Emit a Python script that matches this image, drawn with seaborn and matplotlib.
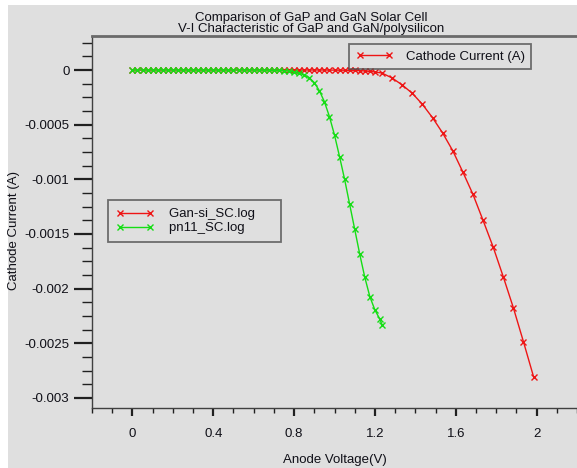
import matplotlib
matplotlib.use("Agg")
import matplotlib.pyplot as plt
import seaborn as sns
import pandas as pd
from matplotlib.patches import Rectangle
from matplotlib.ticker import MultipleLocator

# ---- data ----
gan_v = [0.0, 0.025, 0.05, 0.075, 0.1, 0.125, 0.15, 0.175, 0.2, 0.225, 0.25, 0.275,
         0.3, 0.325, 0.35, 0.375, 0.4, 0.425, 0.45, 0.475, 0.5, 0.525, 0.55, 0.575,
         0.6, 0.625, 0.65, 0.675, 0.7, 0.725, 0.75, 0.775, 0.8, 0.825, 0.85, 0.875,
         0.9, 0.925, 0.95, 0.975, 1.0, 1.025, 1.05, 1.075, 1.1, 1.125, 1.15, 1.175,
         1.2, 1.235, 1.285, 1.335, 1.385, 1.435, 1.485, 1.535, 1.585, 1.635, 1.685,
         1.735, 1.785, 1.835, 1.885, 1.935, 1.985]
gan_i = [0.0, 0.0, 0.0, 0.0, 0.0, 0.0, 0.0, 0.0, 0.0, 0.0, 0.0, 0.0,
         0.0, 0.0, 0.0, 0.0, 0.0, 0.0, 0.0, 0.0, 0.0, 0.0, 0.0, 0.0,
         0.0, 0.0, 0.0, 0.0, 0.0, 0.0, 0.0, 0.0, 0.0, 0.0, 0.0, 0.0,
         0.0, 0.0, 0.0, -0.000001, -0.000001, -0.000002, -0.000002, -0.000003,
         -0.000004, -0.000006, -0.000009, -0.000013, -0.000018, -0.000028,
         -0.000073, -0.000137, -0.000213, -0.000314, -0.000436, -0.000576,
         -0.000738, -0.000933, -0.001137, -0.001375, -0.001619, -0.001891,
         -0.002175, -0.002486, -0.002806]

pn_v = [0.0, 0.025, 0.05, 0.075, 0.1, 0.125, 0.15, 0.175, 0.2, 0.225, 0.25, 0.275,
        0.3, 0.325, 0.35, 0.375, 0.4, 0.425, 0.45, 0.475, 0.5, 0.525, 0.55, 0.575,
        0.6, 0.625, 0.65, 0.675, 0.7, 0.725, 0.75, 0.775, 0.8, 0.825, 0.85, 0.875,
        0.9, 0.925, 0.95, 0.975, 1.0, 1.025, 1.05, 1.075, 1.1, 1.125, 1.15, 1.175,
        1.2, 1.225, 1.235]
pn_i = [0.0, 0.0, 0.0, 0.0, 0.0, 0.0, 0.0, 0.0, 0.0, 0.0, 0.0, 0.0,
        0.0, 0.0, 0.0, 0.0, 0.0, 0.0, 0.0, 0.0, 0.0, 0.0, 0.0, 0.0,
        -0.000001, -0.000001, -0.000002, -0.000002, -0.000003, -0.000004,
        -0.000006, -0.00001, -0.000018, -0.00003, -0.000045, -0.00007,
        -0.000116, -0.000189, -0.00029, -0.000427, -0.000595, -0.000793,
        -0.001, -0.001229, -0.001457, -0.001686, -0.001897, -0.002074,
        -0.002196, -0.002281, -0.00233]

x_ticks = [0.0, 0.4, 0.8, 1.2, 1.6, 2.0]
x_tick_labels = ["0", "0.4", "0.8", "1.2", "1.6", "2"]
y_ticks = [0.0, -0.0005, -0.001, -0.0015, -0.002, -0.0025, -0.003]
y_tick_labels = ["0", "-0.0005", "-0.001", "-0.0015", "-0.002", "-0.0025", "-0.003"]

title_1 = "Comparison of GaP and GaN Solar Cell"
title_2 = "V-I Characteristic of GaP and GaN/polysilicon"

# ---- styling ----
sns.set_theme(style="white")
plt.rcParams["font.family"] = ["Liberation Sans", "DejaVu Sans"]
FS = 9.5
TXT = "#101018"
BG = "#dfdfdf"
RED = "#ee1515"
GREEN = "#15dd15"

W, H = 577, 468
fig = plt.figure(figsize=(W / 100, H / 100), dpi=100, facecolor="white")
fig.patches.append(Rectangle((8 / W, 0), 1, 1 - 5 / H, transform=fig.transFigure,
                             facecolor=BG, edgecolor="none", zorder=-10))

ax_l, ax_t, ax_b = 92, 35.5, 408
ax = fig.add_axes([ax_l / W, 1 - ax_b / H, 1 - ax_l / W, (ax_b - ax_t) / H])
ax.set_facecolor("none")

df_gan = pd.DataFrame({"v": gan_v, "i": gan_i})
df_pn = pd.DataFrame({"v": pn_v, "i": pn_i})
sns.lineplot(data=df_gan, x="v", y="i", ax=ax, color=RED, marker="x",
             markersize=5, markeredgewidth=1, linewidth=1, legend=False,
             markeredgecolor=RED)
sns.lineplot(data=df_pn, x="v", y="i", ax=ax, color=GREEN, marker="x",
             markersize=5, markeredgewidth=1, linewidth=1, legend=False,
             markeredgecolor=GREEN)
l_gan, l_pn = ax.lines[0], ax.lines[1]

ax.set_xlim(-0.2, 2.2)
ax.set_ylim(-(ax_b - 70) / 109.3 * 0.001, (70 - ax_t) / 109.3 * 0.001)

ax.set_xticks(x_ticks)
ax.set_xticklabels(x_tick_labels)
ax.set_yticks(y_ticks)
ax.set_yticklabels(y_tick_labels)
ax.xaxis.set_minor_locator(MultipleLocator(0.1))
ax.yaxis.set_minor_locator(MultipleLocator(0.000125))

ax.tick_params(axis="y", which="major", direction="out", length=13, width=1.6,
               color="#202020", pad=3.2, labelsize=FS, labelcolor=TXT, left=True)
ax.tick_params(axis="y", which="minor", direction="out", length=7, width=1,
               color="#202020", left=True)
ax.tick_params(axis="x", which="major", direction="out", length=6, width=1.6,
               color="#202020", pad=8.5, labelsize=FS, labelcolor=TXT, bottom=True)
ax.tick_params(axis="x", which="minor", direction="out", length=3.5, width=1,
               color="#202020", bottom=True)

for side in ["left", "bottom"]:
    ax.spines[side].set_color("#404040")
    ax.spines[side].set_linewidth(1)
ax.spines["top"].set_color("#6a6a6a")
ax.spines["top"].set_linewidth(2)
ax.spines["right"].set_visible(False)

ax.set_xlabel("Anode Voltage(V)", fontsize=FS, color=TXT)
ax.xaxis.set_label_coords(0.5, (ax_b - 460) / (ax_b - ax_t))
ax.xaxis.label.set_va("center")
ax.set_ylabel("Cathode Current (A)", fontsize=FS, color=TXT)
ax.yaxis.set_label_coords((14 - ax_l) / (W - ax_l), 1 - (230 - ax_t) / (ax_b - ax_t))
ax.yaxis.label.set_va("center")

leg1 = ax.legend([l_gan], ["Cathode Current (A)"], loc="upper left",
                 bbox_to_anchor=((349 - ax_l) / (W - ax_l), 1 - (44 - ax_t) / (ax_b - ax_t)),
                 borderaxespad=0, frameon=True, fancybox=False, edgecolor="#505050",
                 facecolor="none", numpoints=2, handlelength=2.8,
                 handletextpad=1.0, borderpad=0.5, fontsize=FS, labelcolor=TXT)
leg1.get_frame().set_linewidth(1.3)
ax.add_artist(leg1)

leg2 = ax.legend([l_gan, l_pn], ["Gan-si_SC.log     ", "pn11_SC.log       "], loc="upper left",
                 bbox_to_anchor=((108 - ax_l) / (W - ax_l), 1 - (200 - ax_t) / (ax_b - ax_t)),
                 borderaxespad=0, frameon=True, fancybox=False, edgecolor="#505050",
                 facecolor="none", numpoints=2, handlelength=2.9, handletextpad=1.1,
                 borderpad=0.6, labelspacing=0.15, fontsize=FS, labelcolor=TXT)
leg2.get_frame().set_linewidth(1.3)

fig.text(311 / W, 1 - 20.5 / H, title_1, ha="center", va="baseline",
         fontsize=FS, color=TXT)
fig.text(311 / W, 1 - 32 / H, title_2, ha="center", va="baseline",
         fontsize=FS, color=TXT)

fig.savefig("out.png", dpi=100, facecolor=fig.get_facecolor())
